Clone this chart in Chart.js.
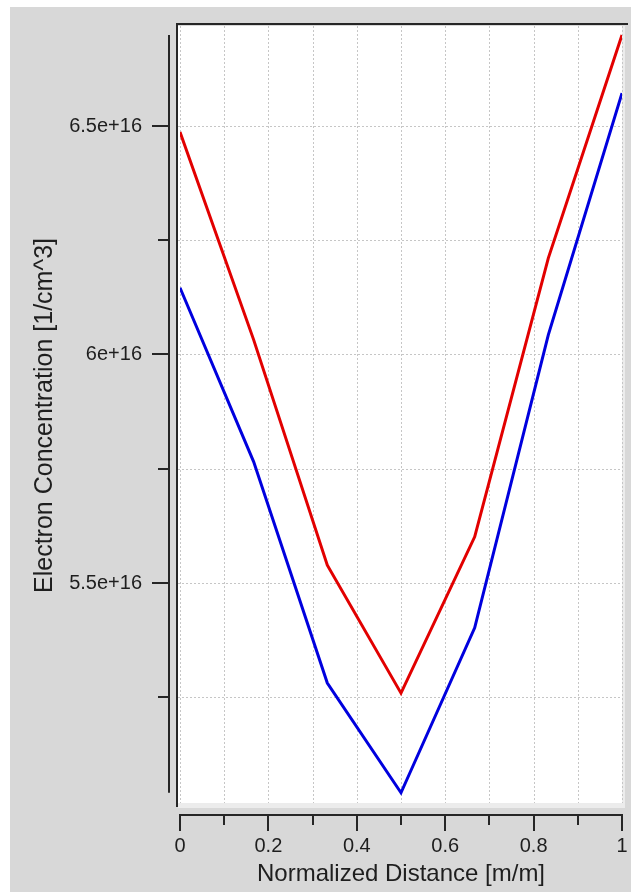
<!DOCTYPE html>
<html>
<head>
<meta charset="utf-8">
<title>Electron Concentration</title>
<script src="https://cdn.jsdelivr.net/npm/chart.js@4/dist/chart.umd.min.js"></script>
<style>
  html, body { margin: 0; padding: 0; background: #ffffff; }
  #c { display: block; }
</style>
</head>
<body>
<canvas id="c" width="631" height="892"></canvas>
<script>
// Normalized position along the device (m/m)
const distance = [0, 0.1667, 0.3333, 0.5, 0.6667, 0.8333, 1];

// Electron concentration profiles (1/cm^3)
const redProfile  = [6.487e16, 6.032e16, 5.539e16, 5.259e16, 5.601e16, 6.211e16, 6.699e16];
const blueProfile = [6.146e16, 5.765e16, 5.281e16, 5.041e16, 5.402e16, 6.043e16, 6.572e16];

// Axis ticks
const xTickValues = [0, 0.1, 0.2, 0.3, 0.4, 0.5, 0.6, 0.7, 0.8, 0.9, 1];
const xTickLabels = ['0', '', '0.2', '', '0.4', '', '0.6', '', '0.8', '', '1'];
const yTickValues = [5.25e16, 5.5e16, 5.75e16, 6e16, 6.25e16, 6.5e16];
const yTickLabels = ['', '5.5e+16', '', '6e+16', '', '6.5e+16'];

const yMin = 5.0142e16;
const yMax = 6.7188e16;

const INK = '#262626';
const TEXT = '#1e1e1e';
const FONT = '"Liberation Sans", Arial, Helvetica, sans-serif';

function seg(ctx, x1, y1, x2, y2) {
  ctx.beginPath();
  ctx.moveTo(x1, y1);
  ctx.lineTo(x2, y2);
  ctx.stroke();
}

// Fixed axis bands; label overhang is not allowed to shrink the plot
function fixBand(prop, size) {
  return s => {
    s[prop] = size;
    s.paddingTop = 0;
    s.paddingBottom = 0;
    s.paddingLeft = 0;
    s.paddingRight = 0;
  };
}

// Panel background, plot face, dotted grid, frame and axes with tick marks
const framePlugin = {
  id: 'frame',
  beforeDraw(chart) {
    const ctx = chart.ctx;
    const a = chart.chartArea;
    const xs = chart.scales.x;
    const ys = chart.scales.y;
    ctx.save();

    ctx.fillStyle = '#ffffff';
    ctx.fillRect(0, 0, chart.width, chart.height);
    ctx.fillStyle = '#d8d8d8';
    ctx.fillRect(10, 7, chart.width - 10, chart.height - 7);

    // plot face with a light bevel on the right and bottom
    ctx.fillStyle = '#ececec';
    ctx.fillRect(a.left - 2, a.top, a.right - a.left + 5, a.bottom - a.top + 3);
    ctx.fillStyle = '#ffffff';
    ctx.fillRect(a.left - 2, a.top, a.right - a.left + 2, a.bottom - a.top - 2);

    // dotted grid
    ctx.strokeStyle = '#c6c6c6';
    ctx.lineWidth = 1;
    ctx.setLineDash([2, 2]);
    xTickValues.forEach(v => {
      const px = Math.round(xs.getPixelForValue(v)) + 0.5;
      seg(ctx, px, a.top, px, a.bottom - 2);
    });
    yTickValues.forEach(v => {
      const py = Math.round(ys.getPixelForValue(v)) + 0.5;
      seg(ctx, a.left - 2, py, a.right, py);
    });
    ctx.setLineDash([]);

    ctx.strokeStyle = INK;
    ctx.lineWidth = 2;
    // plot frame: top and left edges
    seg(ctx, a.left - 4, a.top - 2, a.right + 6, a.top - 2);
    seg(ctx, a.left - 3, a.top - 3, a.left - 3, a.bottom + 2);

    // y axis spans the data range
    const all = redProfile.concat(blueProfile);
    const yTop = ys.getPixelForValue(Math.max(...all));
    const yBot = ys.getPixelForValue(Math.min(...all));
    const axX = a.left - 11;
    seg(ctx, axX, yTop, axX, yBot);
    yTickValues.forEach((v, i) => {
      const py = Math.round(ys.getPixelForValue(v));
      const len = yTickLabels[i] ? 17 : 11;
      seg(ctx, axX, py, axX - len, py);
    });

    // x axis below the plot
    const axY = a.bottom + 10;
    const x0 = xs.getPixelForValue(xTickValues[0]);
    const x1 = xs.getPixelForValue(xTickValues[xTickValues.length - 1]);
    seg(ctx, x0 - 1, axY, x1 + 1, axY);
    xTickValues.forEach((v, i) => {
      const px = Math.round(xs.getPixelForValue(v));
      const len = xTickLabels[i] ? 16 : 10;
      seg(ctx, px, axY, px, axY + len);
    });

    ctx.restore();
  }
};

new Chart(document.getElementById('c'), {
  type: 'line',
  data: {
    datasets: [
      {
        data: distance.map((d, i) => ({ x: d, y: redProfile[i] })),
        borderColor: 'rgb(226, 0, 0)',
        borderWidth: 3,
        pointRadius: 0,
        tension: 0,
        fill: false
      },
      {
        data: distance.map((d, i) => ({ x: d, y: blueProfile[i] })),
        borderColor: 'rgb(0, 0, 222)',
        borderWidth: 3,
        pointRadius: 0,
        tension: 0,
        fill: false
      }
    ]
  },
  options: {
    responsive: false,
    animation: false,
    devicePixelRatio: 1,
    events: [],
    layout: { padding: { left: 0, right: 9, top: 26, bottom: 0 } },
    plugins: { legend: { display: false }, tooltip: { enabled: false } },
    scales: {
      x: {
        type: 'linear',
        min: 0,
        max: 1,
        afterBuildTicks: s => { s.ticks = xTickValues.map(v => ({ value: v })); },
        afterFit: fixBand('height', 87),
        grid: { display: false, drawTicks: false },
        border: { display: false },
        ticks: {
          autoSkip: false,
          maxRotation: 0,
          padding: 29,
          color: TEXT,
          font: { family: FONT, size: 20 },
          callback: (v, i) => xTickLabels[i]
        },
        title: {
          display: true,
          text: 'Normalized Distance [m/m]',
          color: TEXT,
          font: { family: FONT, size: 24 },
          padding: { top: 0, bottom: 3 }
        }
      },
      y: {
        type: 'linear',
        min: yMin,
        max: yMax,
        afterBuildTicks: s => { s.ticks = yTickValues.map(v => ({ value: v })); },
        afterFit: fixBand('width', 180),
        grid: { display: false, drawTicks: false },
        border: { display: false },
        ticks: {
          autoSkip: false,
          padding: 38,
          color: TEXT,
          font: { family: FONT, size: 20 },
          callback: (v, i) => yTickLabels[i]
        },
        title: {
          display: true,
          text: 'Electron Concentration [1/cm^3]',
          color: TEXT,
          font: { family: FONT, size: 25 },
          padding: { top: 30, bottom: 0 }
        }
      }
    }
  },
  plugins: [framePlugin]
});
</script>
</body>
</html>
